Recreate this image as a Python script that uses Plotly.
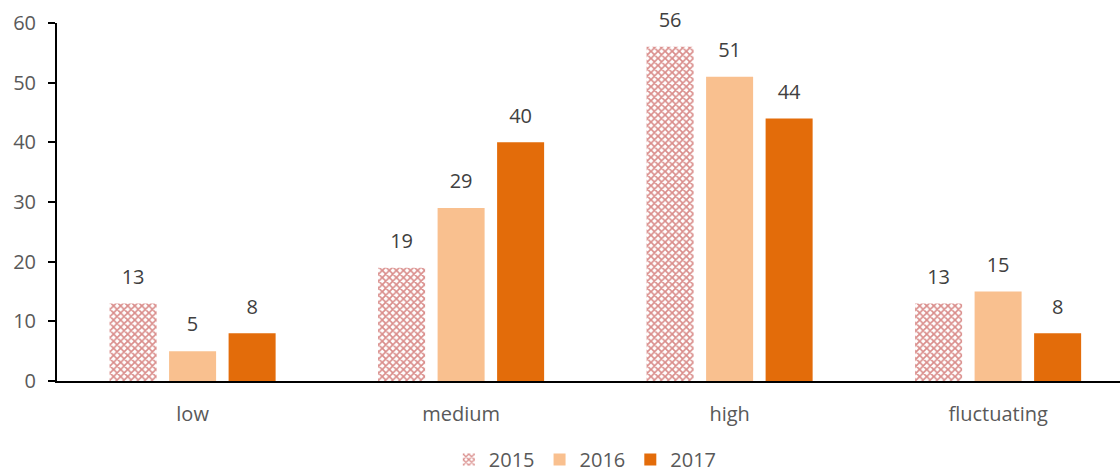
import plotly.graph_objects as go

categories = ["low", "medium", "high", "fluctuating"]
years = ["2015", "2016", "2017"]
values_2015 = [13, 19, 56, 13]
values_2016 = [5, 29, 51, 15]
values_2017 = [8, 40, 44, 8]
y_ticks = [0, 10, 20, 30, 40, 50, 60]

FONT = "Open Sans"
SIZE = 20
label_font = dict(family=FONT, size=SIZE, color="#404040")
axis_font = dict(family=FONT, size=SIZE, color="#595959")

series = [
    (years[0], values_2015, dict(color="white",
                                 pattern=dict(shape="x", fgcolor="#D98C8A", bgcolor="white",
                                              size=5, solidity=0.55, fillmode="replace"))),
    (years[1], values_2016, dict(color="#F9C08F")),
    (years[2], values_2017, dict(color="#E36C0A")),
]

fig = go.Figure()

for name, vals, marker in series:
    fig.add_trace(go.Bar(
        name=name, x=categories, y=vals, marker=marker,
        marker_line_width=0, offsetgroup=name,
    ))

# value labels, grouped the same way as the bars
for name, vals, _ in series:
    fig.add_trace(go.Scatter(
        x=categories, y=vals, mode="markers+text", text=[str(v) for v in vals],
        textposition="top center", textfont=label_font,
        marker=dict(size=22, color="rgba(0,0,0,0)"),
        offsetgroup=name, showlegend=False, hoverinfo="skip", cliponaxis=False,
    ))

fig.update_layout(
    width=1120, height=473,
    margin=dict(l=57, r=0, t=23, b=92, autoexpand=False),
    paper_bgcolor="white", plot_bgcolor="white",
    barmode="group", bargap=0.335, bargroupgap=0.21,
    scattermode="group", scattergap=0.335,
    font=axis_font,
    legend=dict(orientation="h", x=0.497, xanchor="center",
                y=-0.165, yanchor="top",
                font=axis_font, itemwidth=30, traceorder="normal"),
    showlegend=True,
)
fig.update_xaxes(
    range=[-0.505, 3.454], showgrid=False, showline=True, linecolor="black", linewidth=2,
    ticks="outside", ticklen=14, tickcolor="rgba(0,0,0,0)",
    tickfont=axis_font,
)
fig.update_yaxes(
    range=[0, 60], tickvals=y_ticks, showgrid=False, zeroline=False,
    showline=True, linecolor="black", linewidth=2,
    ticks="outside", ticklen=7, tickcolor="black", tickwidth=2,
    ticklabelstandoff=8,
    tickfont=axis_font,
)

fig.write_html("out.html")
